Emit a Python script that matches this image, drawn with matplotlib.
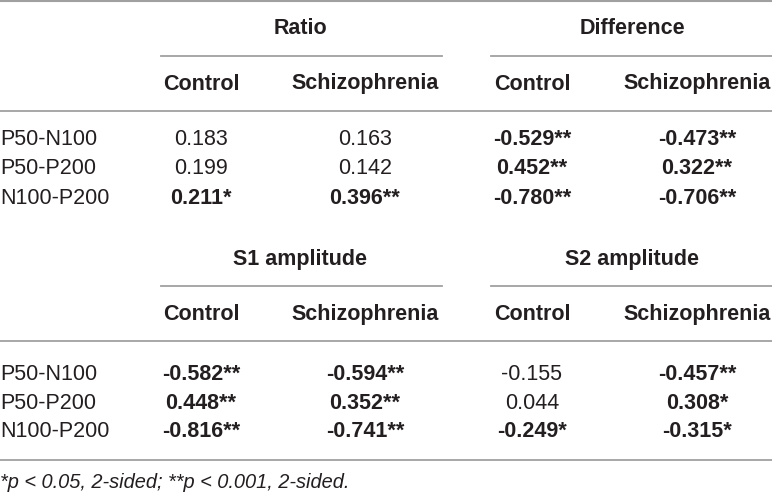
import matplotlib.pyplot as plt

plt.rcParams['font.family'] = ['Liberation Sans', 'DejaVu Sans']

row_labels = ["P50-N100", "P50-P200", "N100-P200"]
groups_top = ["Ratio", "Difference"]
groups_bottom = ["S1 amplitude", "S2 amplitude"]
sub_cols = ["Control", "Schizophrenia"]

# columns: group1 control, group1 schizo, group2 control, group2 schizo
top_values = [
    [0.183, 0.163, -0.529, -0.473],
    [0.199, 0.142, 0.452, 0.322],
    [0.211, 0.396, -0.780, -0.706],
]
top_stars = [
    ["", "", "**", "**"],
    ["", "", "**", "**"],
    ["*", "**", "**", "**"],
]
bottom_values = [
    [-0.582, -0.594, -0.155, -0.457],
    [0.448, 0.352, 0.044, 0.308],
    [-0.816, -0.741, -0.249, -0.315],
]
bottom_stars = [
    ["**", "**", "", "**"],
    ["**", "**", "", "*"],
    ["**", "**", "*", "*"],
]
footnote = "*p < 0.05, 2-sided; **p < 0.001, 2-sided."

TXT = "#231f20"
LINE = "#a0a0a0"
FS = 15.5

fig = plt.figure(figsize=(7.72, 4.94), dpi=100)
ax = fig.add_axes([0, 0, 1, 1])
ax.set_xlim(0, 772)
ax.set_ylim(494, 0)
ax.axis("off")

col_x = [201, 365, 532, 697]
group_x = [300, 632]
group_spans = [(161, 442), (491, 772)]


def draw_block(y0, groups, values, stars, row_ys):
    # group headers + underlines
    for g, gx, (a, b) in zip(groups, group_x, group_spans):
        ax.text(gx, y0, g, ha="center", va="center", fontsize=FS,
                fontweight="bold", color=TXT)
        ax.plot([a, b], [y0 + 27, y0 + 27], color=LINE, lw=1.3)
    # sub column headers
    for i, cx in enumerate(col_x):
        ax.text(cx, y0 + 55, sub_cols[i % 2], ha="center", va="center",
                fontsize=FS, fontweight="bold", color=TXT)
    ax.plot([0, 772], [y0 + 82, y0 + 82], color=LINE, lw=1.3)
    for r, ry in enumerate(row_ys):
        ax.text(0, ry, row_labels[r], ha="left", va="center",
                fontsize=FS, color=TXT)
        for c, cx in enumerate(col_x):
            s = stars[r][c]
            label = f"{values[r][c]:.3f}{s}"
            ax.text(cx, ry, label, ha="center", va="center", fontsize=FS,
                    fontweight="bold" if s else "normal", color=TXT)


ax.plot([0, 772], [1.5, 1.5], color=LINE, lw=1.5)
draw_block(29, groups_top, top_values, top_stars, [139, 168, 198])
draw_block(259, groups_bottom, bottom_values, bottom_stars, [374, 403, 431])
ax.plot([0, 772], [460, 460], color=LINE, lw=1.3)
ax.text(0, 482, footnote, ha="left", va="center", fontsize=14.4,
        style="italic", color=TXT)

fig.savefig("out.png", dpi=100)
